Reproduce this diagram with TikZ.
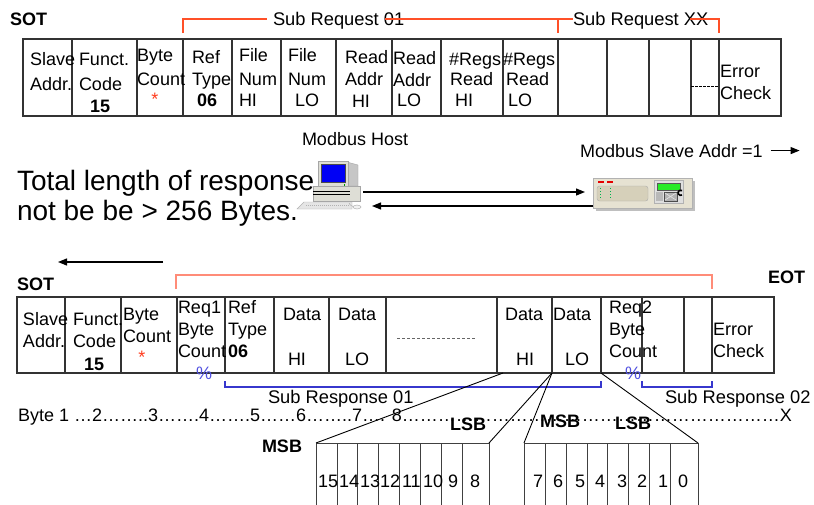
\documentclass[tikz,border=0pt]{standalone}
\usepackage{fontspec}
\setmainfont{Liberation Sans}
\usetikzlibrary{arrows.meta,calc}

\definecolor{reqred}{RGB}{255,80,40}
\definecolor{rspred}{RGB}{255,140,120}
\definecolor{rspblue}{RGB}{55,55,205}
\definecolor{pctblue}{RGB}{80,80,225}
\definecolor{starred}{RGB}{255,60,30}
\definecolor{screenblue}{RGB}{0,0,245}
\definecolor{casegrey}{RGB}{222,222,214}
\definecolor{plcbody}{RGB}{230,226,210}
\definecolor{plcpanel}{RGB}{214,208,186}
\definecolor{lcdgreen}{RGB}{40,235,40}

\newcommand\tabfont{\fontsize{18}{21.6}\selectfont}
\newcommand\subfont{\fontsize{18.3}{22}\selectfont}
\newcommand\noticefont{\fontsize{28}{33}\selectfont}
\newcount\elln
\newcommand\ellrun[1]{\elln=0\relax\loop\ifnum\elln<#1\relax…\advance\elln by 1\relax\repeat}

\begin{document}
\begin{tikzpicture}[x=1pt,y=-1pt,
  lbl/.style={inner sep=0pt,outer sep=0pt,anchor=base west,font=\tabfont},
  cellbox/.style={draw=black!80,line width=1.1pt,inner sep=0pt,outer sep=0pt,anchor=north west},
  bitbox/.style={draw=black!75,line width=1pt,inner sep=0pt,outer sep=0pt,anchor=north west},
  reqline/.style={draw=reqred,line width=1.3pt},
  rspline/.style={draw=rspred,line width=1.3pt},
  subline/.style={draw=rspblue,line width=2.6pt},
  wire/.style={draw=black,line width=1.2pt},
  arr/.style={wire,-{Triangle[length=9pt,width=7pt]}},
  fan/.style={draw=black,line width=0.9pt},
]
\useasboundingbox (0,0) rectangle (814,504);
\fill[white] (0,0) rectangle (814,504);

% ---------------- request frame ----------------
\foreach \a/\b [count=\i] in {23/72,72/137,137/183,183/232,232/281,281/336,336/392,392/441,441/503,503/558,558/607,607/649,649/691,691/719,719/781}{
  \pgfmathsetmacro\cw{\b-\a}
  \node[cellbox,minimum width=\cw pt,minimum height=77pt] (q\i) at (\a,39) {};
}
\draw[black,line width=0.8pt,dash pattern=on 2.5pt off 1.5pt] (q14.west) ++(0,9) -- ++(28,0);

\foreach \x/\y/\t/\n in {
  30/65.5/Slave/qa1, 30/90/Addr./qa2,
  79/65/Funct./qb1, 79/90/Code/qb2, 90/112/\textbf{15}/qb3,
  137/61/Byte/qc1, 137/85/Count/qc2,
  192/63/Ref/qd1, 192/85/Type/qd2, 197/106/\textbf{06}/qd3,
  239/61.5/File/qe1, 239/85/Num/qe2, 239/106/HI/qe3,
  288/61.5/File/qf1, 288/85/Num/qf2, 295/106/LO/qf3,
  345/63/Read/qg1, 345/85/Addr/qg2, 352/107/HI/qg3,
  393/64/Read/qh1, 393/86/Addr/qh2, 397/106/LO/qh3,
  449/65/\#Regs/qi1, 450/85/Read/qi2, 455/106/HI/qi3,
  503/65/\#Regs/qj1, 506/85/Read/qj2, 508/106/LO/qj3,
  720/77/Error/qk1, 720/99/Check/qk2}
  \node[lbl] (\n) at (\x,\y) {\t};
\node[lbl,anchor=base,text=starred] (qstar) at (155,105) {*};

\node[lbl,font=\tabfont\bfseries] (sotA) at (10,25) {SOT};
\node[lbl,font=\subfont] (subreqA) at (273,25) {Sub Request 01};
\node[lbl,font=\subfont] (subreqX) at (573,25) {Sub Request XX};
\draw[reqline] (183,33) -- (183,19) -- (267,19);
\draw[reqline] (385,19) -- (573,19);
\draw[reqline] (558,19) -- (558,33);
\draw[reqline] (690,19) -- (719,19) -- (719,33);

% ---------------- host and slave ----------------
\node[inner sep=0pt,outer sep=0pt,minimum width=66pt,minimum height=52pt,anchor=north west] (host) at (297,158) {};
\node[inner sep=0pt,outer sep=0pt,minimum width=99pt,minimum height=30pt,anchor=north west] (slave) at (593,178) {};
\coordinate (lvlA) at (0,192);
\coordinate (lvlB) at (0,206);

% workstation
\filldraw[fill=gray!20,draw=gray!60] (297,209) -- (304,202) -- (352,202) -- (352,209) -- cycle;
\draw[gray!60,dash pattern=on 1pt off 1pt] (306,205.5) -- (350,205.5);
\filldraw[fill=casegrey,draw=gray!70] (313,186) rectangle (360,201);
\fill[black] (313,190.5) rectangle (350,191.6);
\fill[black] (313,193.6) rectangle (350,194.6);
\filldraw[fill=gray!45,draw=gray!70] (347,162) -- (358,165) -- (358,186) -- (347,186) -- cycle;
\filldraw[fill=casegrey,draw=gray!70] (318,161) rectangle (348,186);
\filldraw[fill=screenblue,draw=black!70] (321,164) rectangle (345,182);
\fill[green!60!black] (343.5,184) rectangle (345,185.5);
\filldraw[fill=gray!10,draw=gray!70] (357,207) ellipse (4 and 2);
\draw[gray!70] (353,206.5) .. controls (350,205) .. (349,203);

% controller
\fill[gray!50] (596,181) rectangle (695,211);
\filldraw[fill=plcbody,draw=gray!60] (593,178) rectangle (692,208);
\filldraw[fill=plcpanel,draw=gray!65,rounded corners=2.5pt] (597,186) rectangle (648,201);
\fill[red!90!black] (598,181) rectangle (604,182.6);
\fill[red!90!black] (607,180.6) rectangle (613,182.6);
\foreach \yy in {188,191,194,197}{
  \fill[teal!60!green] (599.5,\yy) rectangle (601,\yy+1.3);
  \fill[teal!60!green] (609.5,\yy) rectangle (611,\yy+1.3);
}
\filldraw[fill=gray!25,draw=gray!60] (654,180) rectangle (683,203);
\filldraw[fill=lcdgreen,draw=gray!70!black] (657,183) rectangle (680,190);
\fill[gray!55] (656,192) rectangle (663,201);
\filldraw[fill=gray!60,draw=black!70] (664,192) rectangle (677,201);
\draw[gray!20,line width=0.6pt] (665,193) -- (676,200) (665,200) -- (676,193);
\draw[black,line width=1.6pt] (682,195) arc[start angle=60,end angle=300,radius=2.6];

\draw[arr,shorten >=8pt] (host.east |- lvlA) -- (slave.west |- lvlA);
\draw[arr,shorten >=9pt] (slave.west |- lvlB) -- (host.east |- lvlB);

\node[lbl] (hostlbl) at (302,145) {Modbus Host};
\node[lbl] (slvlbl) at (580,157) {Modbus Slave Addr =1};
\draw[arr] ([xshift=8pt]slvlbl.east) -- ++(29,0);

\node[lbl,font=\noticefont] (noteA) at (17,190) {Total length of response};
\node[lbl,font=\noticefont] (noteB) at (17,220) {not be be > 256 Bytes.};

\coordinate (backA) at (163,262);
\coordinate (backB) at (58,262);
\draw[arr] (backA) -- (backB);

% ---------------- response frame ----------------
\foreach \a/\b [count=\i] in {17/65,65/121,121/177,177/225,225/274,274/329,329/386,386/497,497/552,552/601,601/642,642/684,684/712,712/774}{
  \pgfmathsetmacro\cw{\b-\a}
  \node[cellbox,minimum width=\cw pt,minimum height=76pt] (b\i) at (\a,297) {};
}
\draw[gray!80!black,line width=0.8pt,dash pattern=on 3pt off 2pt] (397,338) -- (475,338);

\foreach \x/\y/\t/\n in {
  23/325/Slave/ba1, 23/347/Addr./ba2,
  73/325/Funct./bb1, 73/347/Code/bb2, 84/370/\textbf{15}/bb3,
  123/320/Byte/bc1, 123/342/Count/bc2,
  178/313/Req1/bd1, 178/335/Byte/bd2, 178/357/Count/bd3,
  228/313/Ref/be1, 228/335/Type/be2, 228/357/\textbf{06}/be3,
  283/320/Data/bf1, 288/365/HI/bf2,
  338/320/Data/bg1, 345/365/LO/bg2,
  505/320/Data/bh1, 516/365/HI/bh2,
  553/320/Data/bi1, 565/365/LO/bi2,
  609/313/Req2/bj1, 609/335/Byte/bj2, 609/357/Count/bj3,
  713/335/Error/bk1, 713/357/Check/bk2}
  \node[lbl] (\n) at (\x,\y) {\t};
\node[lbl,anchor=base,text=starred] (bstar) at (142,363) {*};
\node[lbl,text=pctblue] (pctA) at (196,379) {\%};
\node[lbl,text=pctblue] (pctB) at (625,379) {\%};

\node[lbl,font=\tabfont\bfseries] (sotB) at (17,290) {SOT};
\node[lbl,font=\tabfont\bfseries] (eotB) at (768,283) {EOT};
\draw[rspline] (176,289) -- (176,275) -- (712,275) -- (712,289);

\draw[subline] (225,381) -- (225,387) -- (601,387) -- (601,381);
\draw[subline] (642,381) -- (642,387) -- (712,387) -- (712,381);
\node[lbl,font=\subfont] (subrspA) at (268,403) {Sub Response 01};
\node[lbl,font=\subfont] (subrspB) at (665,403) {Sub Response 02};

% ---------------- register bits ----------------
\foreach \a/\b [count=\i] in {316/337,337/357,357/378,378/399,399/420,420/441,441/462,462/489}{
  \pgfmathsetmacro\cw{\b-\a}
  \node[bitbox,minimum width=\cw pt,minimum height=80pt] (l\i) at (\a,443) {};
}
\foreach \a/\b [count=\i] in {524/545,545/566,566/587,587/607,607/628,628/649,649/670,670/698}{
  \pgfmathsetmacro\cw{\b-\a}
  \node[bitbox,minimum width=\cw pt,minimum height=80pt] (r\i) at (\a,443) {};
}
\foreach \x/\t [count=\i] in {318/15,339/14,360/13,380/12,402/11,423/10,448/9,470/8}
  \node[lbl] (lb\i) at (\x,487) {\t};
\foreach \x/\t [count=\i] in {533/7,553/6,575/5,595/4,617/3,637/2,658/1,678/0}
  \node[lbl] (rb\i) at (\x,487) {\t};

\draw[fan] ($(b9.south west)+(6,0)$) -- (l1.north west);
\draw[fan] (b9.south east) -- (l8.north east);
\draw[fan] (b9.south east) -- (r1.north west);
\draw[fan] (b10.south east) -- (r8.north east);

\node[lbl] (byterow) at (18,421) {Byte 1 …2……..3…….4…….5……6……..7…. 8\ellrun{21}X};
\node[lbl,font=\tabfont\bfseries] (msbA) at (262,452) {MSB};
\node[lbl,font=\tabfont\bfseries] (lsbA) at (450,430) {LSB};
\node[lbl,font=\tabfont\bfseries] (msbB) at (540,427) {MSB};
\node[lbl,font=\tabfont\bfseries] (lsbB) at (615,429) {LSB};
\end{tikzpicture}
\end{document}
